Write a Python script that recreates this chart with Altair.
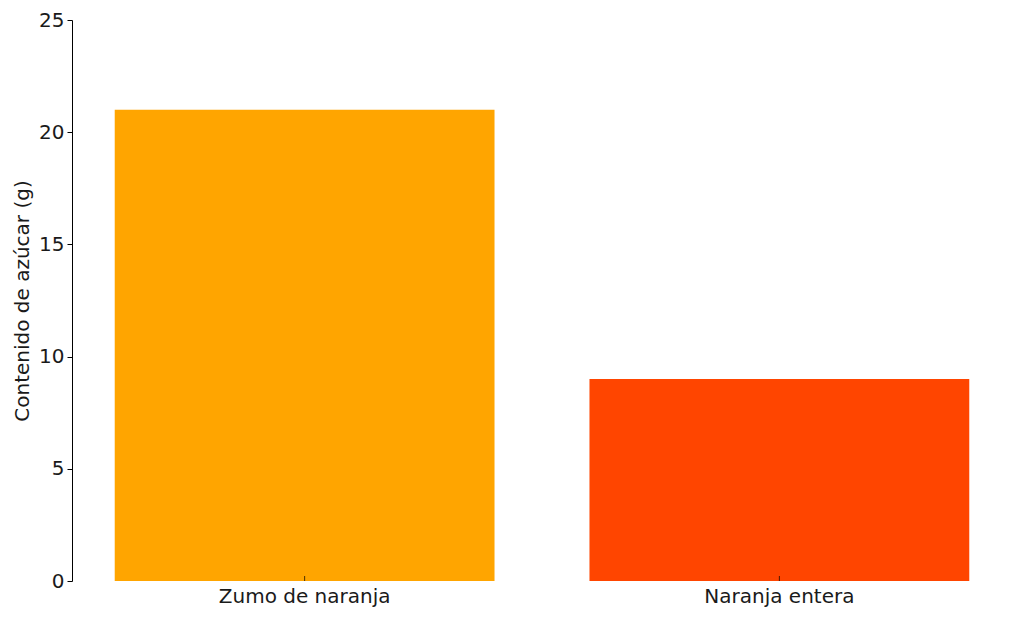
import altair as alt
import pandas as pd

categories = ["Zumo de naranja", "Naranja entera"]
sugar = [21, 9]
colors = ["#FFA500", "#FF4500"]

df = pd.DataFrame({"cat": categories, "sugar": sugar, "zero": [0, 0]})

FONT = "DejaVu Sans"
FS = 20

yscale = alt.Scale(domain=[0, 25], nice=False, zero=True)
xscale = alt.Scale(domain=categories, paddingInner=0.2, paddingOuter=0.09)

xenc = alt.X("cat:N", sort=categories, title=None, scale=xscale,
             axis=alt.Axis(labelAngle=0, domain=False, ticks=False, labelPadding=5,
                           labelFont=FONT, labelFontSize=FS, labelColor="#1a1a1a"))

bars = alt.Chart(df).mark_bar().encode(
    x=xenc,
    y=alt.Y("sugar:Q", title="Contenido de azúcar (g)", scale=yscale,
            axis=alt.Axis(values=[0, 5, 10, 15, 20, 25], grid=False, domainColor="black",
                          tickColor="black", tickSize=5, labelPadding=3,
                          labelFont=FONT, labelFontSize=FS, labelColor="#1a1a1a",
                          titleFont=FONT, titleFontSize=FS, titleFontWeight="normal",
                          titleColor="#1a1a1a", titlePadding=6)),
    color=alt.Color("cat:N", scale=alt.Scale(domain=categories, range=colors), legend=None),
)

ticks = alt.Chart(df).mark_tick(color="black", size=5, thickness=1, orient="vertical", yOffset=-2.5).encode(
    x=alt.X("cat:N", sort=categories, scale=xscale),
    y=alt.Y("zero:Q", scale=yscale),
)

chart = alt.layer(bars, ticks).properties(
    width=940, height=561,
    background="white",
    autosize=alt.AutoSizeParams(type="none"),
    padding={"left": 64, "top": 12, "right": 4, "bottom": 40},
).configure_view(strokeWidth=0, stroke=None)

chart.save("out.html", embed_options={"renderer": "svg", "actions": False})
